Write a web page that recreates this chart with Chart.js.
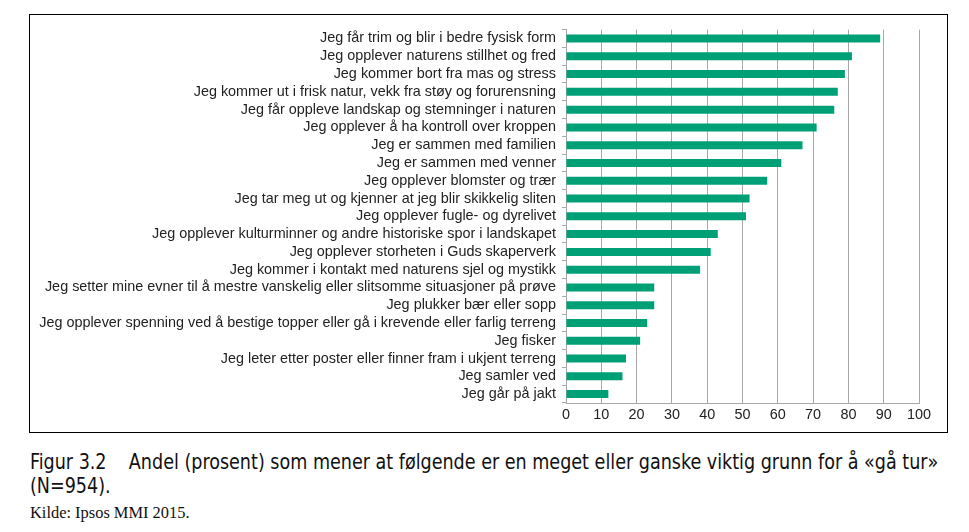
<!DOCTYPE html>
<html>
<head>
<meta charset="utf-8">
<script src="https://cdn.jsdelivr.net/npm/chart.js@4"></script>
<style>
  body { margin: 0; background: #fff; width: 969px; height: 532px; position: relative; overflow: hidden; }
  #box { position: absolute; left: 29px; top: 14px; width: 917px; height: 417px; border: 1px solid #000; }
  #wrap { position: absolute; left: 0; top: 0; width: 917px; height: 417px; }
  .cap { position: absolute; left: 30px; white-space: nowrap; transform-origin: left top; font-family: "DejaVu Sans Condensed", sans-serif; font-size: 21px; color: #111; line-height: 24px; }
  .src { position: absolute; left: 30px; top: 504px; white-space: nowrap; transform-origin: left top; font-family: "Liberation Serif", serif; font-size: 16px; color: #111; }
</style>
</head>
<body>
<div id="box"><div id="wrap"><canvas id="chart"></canvas></div></div>
<div class="cap" id="cap1" style="top:450px">Figur 3.2&nbsp;&nbsp;&nbsp;&nbsp;Andel (prosent) som mener at følgende er en meget eller ganske viktig grunn for å «gå tur»</div>
<div class="cap" id="cap2" style="top:474px">(N=954).</div>
<div class="src" id="src">Kilde: Ipsos MMI 2015.</div>
<script>
const categories = [
  'Jeg får trim og blir i bedre fysisk form',
  'Jeg opplever naturens stillhet og fred',
  'Jeg kommer bort fra mas og stress',
  'Jeg kommer ut i frisk natur, vekk fra støy og forurensning',
  'Jeg får oppleve landskap og stemninger i naturen',
  'Jeg opplever å ha kontroll over kroppen',
  'Jeg er sammen med familien',
  'Jeg er sammen med venner',
  'Jeg opplever blomster og trær',
  'Jeg tar meg ut og kjenner at jeg blir skikkelig sliten',
  'Jeg opplever fugle- og dyrelivet',
  'Jeg opplever kulturminner og andre historiske spor i landskapet',
  'Jeg opplever storheten i Guds skaperverk',
  'Jeg kommer i kontakt med naturens sjel og mystikk',
  'Jeg setter mine evner til å mestre vanskelig eller slitsomme situasjoner på prøve',
  'Jeg plukker bær eller sopp',
  'Jeg opplever spenning ved å bestige topper eller gå i krevende eller farlig terreng',
  'Jeg fisker',
  'Jeg leter etter poster eller finner fram i ukjent terreng',
  'Jeg samler ved',
  'Jeg går på jakt'
];
const shares = [89, 81, 79, 77, 76, 71, 67, 61, 57, 52, 51, 43, 41, 38, 25, 25, 23, 21, 17, 16, 12];
const xTicks = [0, 10, 20, 30, 40, 50, 60, 70, 80, 90, 100];

const green = '#00a077';
const gridGray = '#a8a8a8';

// squeeze caption lines to the condensed width of the original
const cap1 = document.getElementById('cap1');
const k = 908 / cap1.offsetWidth;
cap1.style.transform = `scaleX(${k})`;
document.getElementById('cap2').style.transform = `scaleX(${k})`;
const src = document.getElementById('src');
src.style.transform = `scaleX(${160 / src.offsetWidth})`;

new Chart(document.getElementById('chart'), {
  type: 'bar',
  data: {
    labels: categories,
    datasets: [{
      data: shares,
      backgroundColor: green,
      barPercentage: 0.45,
      categoryPercentage: 1
    }]
  },
  options: {
    indexAxis: 'y',
    responsive: true,
    maintainAspectRatio: false,
    animation: false,
    layout: { padding: { top: 10, right: 28, bottom: 0, left: 0 } },
    plugins: { legend: { display: false }, tooltip: { enabled: false } },
    scales: {
      x: {
        min: 0,
        max: 100,
        afterBuildTicks: scale => { scale.ticks = xTicks.map(v => ({ value: v })); },
        afterFit: scale => { scale.height = 29; },
        grid: { color: gridGray, lineWidth: 1, tickLength: 0 },
        border: { color: gridGray },
        ticks: { color: '#222', padding: 3, font: { family: 'Liberation Sans', size: 14.4 } }
      },
      y: {
        afterFit: scale => { scale.width = 536; },
        grid: { drawOnChartArea: false, color: gridGray, tickLength: 4, offset: true },
        border: { color: gridGray },
        ticks: { color: '#222', padding: 6, autoSkip: false, font: { family: 'Liberation Sans', size: 14.4 } }
      }
    }
  }
});
</script>
</body>
</html>
